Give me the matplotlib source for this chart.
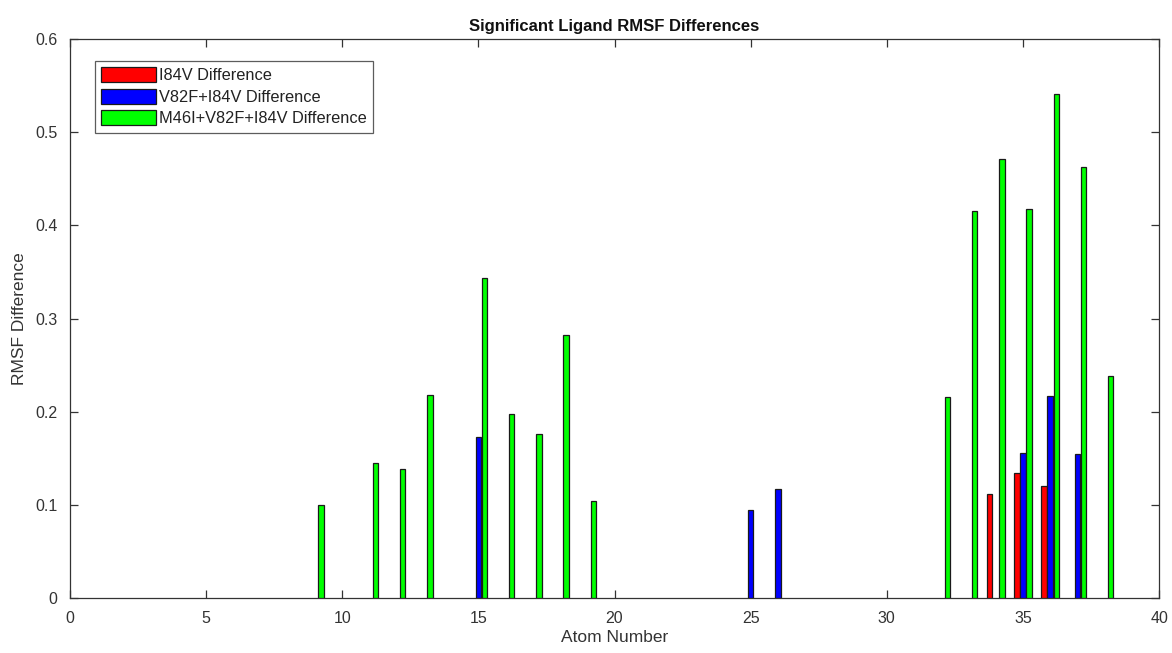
import matplotlib.pyplot as plt
import numpy as np

plt.rcParams['font.family'] = ['Liberation Sans', 'DejaVu Sans']

# RMSF differences per ligand atom, for each mutant vs. wild type
atoms = np.arange(1, 41)
i84v = {34: 0.112, 35: 0.134, 36: 0.120}
v82f_i84v = {15: 0.173, 25: 0.095, 26: 0.117, 35: 0.156, 36: 0.217, 37: 0.155}
m46i_v82f_i84v = {9: 0.100, 11: 0.145, 12: 0.138, 13: 0.218, 15: 0.343,
                  16: 0.198, 17: 0.176, 18: 0.282, 19: 0.104, 32: 0.216,
                  33: 0.415, 34: 0.471, 35: 0.418, 36: 0.541, 37: 0.463,
                  38: 0.238}
series_names = ['I84V Difference', 'V82F+I84V Difference',
                'M46I+V82F+I84V Difference']
series = [i84v, v82f_i84v, m46i_v82f_i84v]
colors = ['#ff0000', '#0000ff', '#00ff00']

fig = plt.figure(figsize=(11.72, 6.53), dpi=100)
ax = fig.add_axes([0.0597, 0.0842, 0.9293, 0.856])

offsets = [-0.222, 0.0, 0.222]
width = 0.2
for vals, name, col, off in zip(series, series_names, colors, offsets):
    y = np.array([vals.get(a, 0.0) for a in atoms])
    keep = y > 0  # atoms with no significant difference get no bar
    ax.bar(atoms[keep] + off, y[keep], width=width, color=col,
           edgecolor='#1a1a1a', linewidth=0.9, label=name, zorder=3)

ax.set_xlim(0, 40)
ax.set_ylim(0, 0.6)
ax.set_xticks(np.arange(0, 41, 5))
ax.set_yticks(np.arange(0, 0.61, 0.1))
ax.set_yticklabels(['0', '0.1', '0.2', '0.3', '0.4', '0.5', '0.6'])
ax.tick_params(direction='in', top=True, right=True, length=6,
               width=0.9, color='#333333', labelsize=11.5,
               labelcolor='#333333', pad=9)
for s in ax.spines.values():
    s.set_color('#333333')
    s.set_linewidth(0.9)

ax.set_title('Significant Ligand RMSF Differences', fontsize=12,
             fontweight='bold', color='#111111', pad=6)
ax.set_xlabel('Atom Number', fontsize=12.5, color='#333333', labelpad=3)
ax.set_ylabel('RMSF Difference', fontsize=12.5, color='#333333', labelpad=6)

leg = ax.legend(loc='upper left', bbox_to_anchor=(0.023, 0.961),
                fontsize=11.8, frameon=True, fancybox=False,
                handlelength=3.35, handleheight=1.04, handletextpad=0.2,
                labelspacing=0.33, borderpad=0.38, borderaxespad=0)
leg.get_frame().set_edgecolor('#333333')
leg.get_frame().set_linewidth(0.9)
for t in leg.get_texts():
    t.set_color('#222222')

fig.savefig('out.png', dpi=100)
